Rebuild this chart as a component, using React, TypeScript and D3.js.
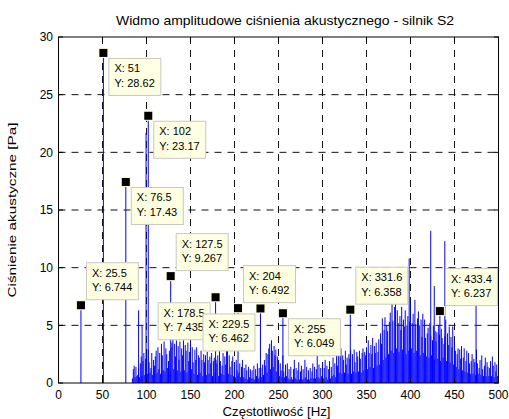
import React from "react";
import * as d3 from "d3";

const title = "Widmo amplitudowe ciśnienia akustycznego - silnik S2";
const xLabel = "Częstotliwość [Hz]";
const yLabel = "Ciśnienie akustyczne [Pa]";
const xTicks = [0, 50, 100, 150, 200, 250, 300, 350, 400, 450, 500];
const yTicks = [0, 5, 10, 15, 20, 25, 30];

// broadband noise, 1 Hz bins starting at 84 Hz
const noiseStart = 84;
const noise = [
  0.4, 1.2, 1.5, 0.5, 1.4, 0.6, 0.7, 1.3, 0.5, 1.7, 2.3, 0.6, 1.9, 2.6, 0.7, 2.1,
  2.4, 0.8, 2.9, 1.8, 0.9, 1.3, 2.6, 0.7, 2.0, 1.5,
  2.3, 2.8, 0.9, 3.1, 1.2, 2.6, 0.8, 3.4, 2.4, 1.1,
  3.6, 1.0, 3.0, 2.5, 1.3, 1.9, 2.8, 0.9, 3.1, 3.5,
  4.0, 1.2, 3.4, 2.3, 3.7, 1.1, 3.2, 2.0, 3.6, 1.0,
  3.0, 2.4, 3.7, 1.1, 3.3, 2.8, 0.9, 3.5, 1.9, 2.7,
  3.6, 1.2, 3.1, 1.8, 0.8, 2.9, 2.0, 3.1, 0.7, 2.4,
  2.2, 0.9, 2.8, 2.0, 0.6, 2.5, 1.8, 2.4, 0.7, 2.7,
  2.0, 0.8, 2.3, 1.7, 2.6, 0.6, 1.9, 2.2, 0.9, 2.0,
  1.7, 2.4, 0.6, 3.4, 1.9, 0.8, 1.5, 2.6, 0.7, 2.3,
  1.6, 2.9, 4.0, 0.8, 2.4, 1.4, 0.7, 1.9, 2.3, 0.6,
  1.8, 0.5, 2.0, 1.1, 0.6, 0.9, 1.7, 0.5, 1.4, 2.0,
  0.5, 1.3, 0.4, 1.6, 1.1, 0.3, 1.4, 0.5, 1.2, 0.4,
  1.1, 0.4, 1.5, 0.3, 1.2, 0.6, 1.7, 0.4, 1.3, 0.5,
  1.3, 0.5, 1.6, 0.7, 2.0, 1.5, 2.6, 0.9, 2.5, 3.0,
  3.4, 1.2, 3.7, 2.8, 1.4, 3.2, 2.4, 2.9, 1.0, 2.3,
  2.0, 0.6, 1.7, 1.1, 0.5, 2.4, 1.0, 0.5, 1.6, 0.6,
  1.7, 0.4, 1.2, 0.3, 1.4, 0.5, 0.3, 1.2, 2.0, 0.4,
  1.3, 0.3, 1.1, 1.8, 0.3, 1.0, 1.5, 0.3, 1.2, 0.4,
  2.0, 0.5, 1.4, 0.3, 1.1, 0.3, 1.3, 0.4, 1.0, 1.7,
  0.4, 1.4, 0.4, 1.2, 2.4, 0.5, 1.6, 0.4, 1.3, 0.6,
  1.8, 0.4, 1.3, 2.0, 0.5, 1.5, 0.3, 1.2, 1.9, 0.4,
  1.4, 0.6, 2.2, 0.7, 1.7, 0.5, 2.5, 1.5, 3.7, 0.9,
  2.6, 3.0, 0.8, 2.4, 2.0, 0.9, 2.8, 1.6, 2.2, 0.8,
  2.5, 2.1, 2.9, 0.8, 2.5, 1.0, 2.9, 1.8, 0.9, 2.7,
  2.3, 1.0, 2.8, 2.1, 0.9, 2.6, 3.0, 1.1, 2.7, 2.4,
  3.1, 1.2, 3.7, 2.6, 1.4, 3.3, 2.5, 3.9, 1.3, 3.2,
  2.6, 3.5, 1.5, 2.7, 3.8, 1.6, 4.3, 3.4, 5.6, 2.0,
  4.6, 5.7, 2.2, 5.0, 4.5, 2.5, 5.3, 6.1, 2.8, 6.9,
  5.4, 2.6, 6.6, 6.9, 3.0, 6.3, 5.2, 2.7, 5.8, 4.6,
  6.6, 2.9, 5.5, 4.9, 6.3, 2.5, 5.0, 5.8, 2.8, 5.3,
  7.0, 3.0, 5.2, 6.0, 2.6, 7.2, 5.1, 2.8, 5.6, 6.2,
  5.0, 2.4, 5.5, 4.0, 6.0, 2.6, 5.5, 3.9, 2.3, 4.3,
  4.8, 2.2, 5.2, 4.1, 2.4, 3.7, 5.0, 2.0, 4.5, 3.6,
  4.4, 2.1, 5.0, 4.2, 1.9, 4.7, 3.9, 2.2, 3.4, 4.1,
  5.5, 1.9, 4.3, 3.3, 4.9, 1.8, 4.0, 3.1, 4.9, 1.6,
  3.6, 2.8, 1.4, 2.5, 3.0, 1.2, 2.9, 2.1, 3.2, 1.1,
  2.2, 3.0, 1.0, 1.9, 2.8, 0.9, 2.6, 1.7, 0.8, 1.9,
  2.5, 0.8, 2.1, 1.8, 0.7, 2.9, 1.7, 0.8, 1.3, 2.0,
  0.7, 2.4, 1.2, 0.6, 1.5, 2.2, 0.6, 1.8, 1.4, 0.6,
  1.3, 1.9, 0.6, 2.3, 1.5, 0.5, 1.8, 1.0, 1.6, 0.6,
  1.4,
];

// isolated lines without data tips
const spikeFreqs = [0, 91, 95, 99.5, 398.5, 423, 427, 439, 474.5];
const spikeValues = [0.8, 6.3, 5.0, 21.7, 10.8, 13.2, 8.4, 12.3, 6.8];

// lines with data tips
const tipFreqs = [25.5, 51, 76.5, 102, 127.5, 178.5, 204, 229.5, 255, 331.6, 433.4];
const tipValues = [6.744, 28.62, 17.43, 23.17, 9.267, 7.435, 6.492, 6.462, 6.049, 6.358, 6.237];
const tipXText = ["25.5", "51", "76.5", "102", "127.5", "178.5", "204", "229.5", "255", "331.6", "433.4"];
const tipYText = ["6.744", "28.62", "17.43", "23.17", "9.267", "7.435", "6.492", "6.462", "6.049", "6.358", "6.237"];

// box placement per tip
const tipPlace = ["tr", "br", "br", "br", "tr", "bl", "tr", "bl", "br", "tr", "tr"];

const W = 509;
const H = 419;
const L = 58.5;
const R = 498.5;
const T = 37;
const B = 383;
const FONT = "'Liberation Sans', Arial, Helvetica, sans-serif";

function textW(s: string, size: number) {
  const widths: Record<string, number> = {
    "X": 0.667, "Y": 0.667, ":": 0.278, " ": 0.278, ".": 0.278,
  };
  let w = 0;
  for (const c of s) w += (widths[c] ?? 0.556) * size;
  return w;
}

export default function App() {
  const x = d3.scaleLinear().domain([0, 500]).range([L, R]);
  const y = d3.scaleLinear().domain([0, 30]).range([B, T]);

  const noiseBars = noise.map((v, i) => ({ f: noiseStart + i, v }));
  const spikes = spikeFreqs.map((f, i) => ({ f, v: spikeValues[i] }));
  const tips = tipFreqs.map((f, i) => ({
    f,
    v: tipValues[i],
    xs: "X: " + tipXText[i],
    ys: "Y: " + tipYText[i],
    place: tipPlace[i],
  }));

  const gridColor = "#111";

  return (
    <div style={{ position: "fixed", left: 0, top: 0 }}>
      <svg width={W} height={H} style={{ display: "block", background: "#fff" }}>
        <rect x={0} y={0} width={W} height={H} fill="#fff" />
        {/* grid */}
        {xTicks.slice(1, -1).map((t) => (
          <line key={"gx" + t} x1={x(t)} x2={x(t)} y1={T} y2={B}
            stroke={gridColor} strokeWidth={1} strokeDasharray="7,6" />
        ))}
        {yTicks.slice(1, -1).map((t) => (
          <line key={"gy" + t} x1={L} x2={R} y1={y(t)} y2={y(t)}
            stroke={gridColor} strokeWidth={1} strokeDasharray="7,6" />
        ))}
        {/* noise */}
        {noiseBars.map((d, i) => (
          <line key={"n" + i} x1={x(d.f)} x2={x(d.f)} y1={y(0)} y2={y(d.v)}
            stroke="#0000ff" strokeWidth={1} />
        ))}
        {spikes.map((d, i) => (
          <line key={"s" + i} x1={x(d.f)} x2={x(d.f)} y1={y(0)} y2={y(d.v)}
            stroke="#0000ff" strokeWidth={1} />
        ))}
        {tips.map((d, i) => (
          <line key={"t" + i} x1={x(d.f)} x2={x(d.f)} y1={y(0)} y2={y(d.v)}
            stroke="#0000ff" strokeWidth={1} />
        ))}
        {/* axes box */}
        <rect x={L} y={T} width={R - L} height={B - T} fill="none" stroke="#000" strokeWidth={1} />
        {xTicks.map((t) => (
          <g key={"tx" + t}>
            <line x1={x(t)} x2={x(t)} y1={B} y2={B - 4.5} stroke="#000" />
            <line x1={x(t)} x2={x(t)} y1={T} y2={T + 4.5} stroke="#000" />
            <text x={x(t)} y={399} textAnchor="middle" fontSize={12} fontFamily={FONT} fill="#000">{t}</text>
          </g>
        ))}
        {yTicks.map((t) => (
          <g key={"ty" + t}>
            <line x1={L} x2={L + 4.5} y1={y(t)} y2={y(t)} stroke="#000" />
            <line x1={R} x2={R - 4.5} y1={y(t)} y2={y(t)} stroke="#000" />
            <text x={53} y={y(t) + 4.3} textAnchor="end" fontSize={12} fontFamily={FONT} fill="#000">{t}</text>
          </g>
        ))}
        {/* data tips */}
        {tips.map((d, i) => {
          const px = x(d.f);
          const py = y(d.v);
          const bw = Math.max(textW(d.xs, 11), textW(d.ys, 11)) + 11;
          const bh = 37;
          let bx = px + 5;
          let by = py + 5;
          if (d.place === "tr") { by = py - 6 - bh; bx = px + 5; }
          if (d.place === "bl") { bx = px - 6 - bw; by = py + 5; }
          return (
            <g key={"tip" + i}>
              <rect x={bx + 0.5} y={by + 0.5} width={bw} height={bh}
                fill="#ffffe1" stroke="#c8c8c0" strokeWidth={1} />
              <text x={bx + 6} y={by + 14.5} fontSize={11} fontFamily={FONT} fill="#000">{d.xs}</text>
              <text x={bx + 6} y={by + 29} fontSize={11} fontFamily={FONT} fill="#000">{d.ys}</text>
              <rect x={px - 5} y={py - 5} width={10} height={10} fill="#ffffcc" />
              <rect x={px - 4} y={py - 4} width={8} height={8} fill="#000" />
            </g>
          );
        })}
        {/* labels */}
        <text x={285} y={25} textAnchor="middle" fontSize={13} fontFamily={FONT} fill="#000"
          textLength={338} lengthAdjust="spacingAndGlyphs">{title}</text>
        <text x={276.5} y={416} textAnchor="middle" fontSize={12.5} fontFamily={FONT} fill="#000"
          textLength={108} lengthAdjust="spacingAndGlyphs">{xLabel}</text>
        <text transform={`translate(16,${(T + B) / 2}) rotate(-90)`} textAnchor="middle"
          fontSize={11} fontFamily={FONT} fill="#000" textLength={175} lengthAdjust="spacingAndGlyphs">{yLabel}</text>
      </svg>
    </div>
  );
}
